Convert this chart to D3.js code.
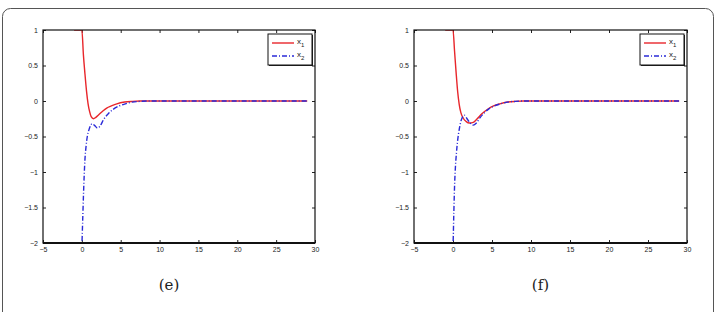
<!DOCTYPE html>
<html lang="en">
  <head>
    <meta charset="UTF-8" />
    <title>x1 / x2 responses</title>
    <script src="https://cdn.jsdelivr.net/npm/d3@7"></script>
    <style>
      body { margin: 0; background: #fff; }
      .tick text { font-family: "Liberation Sans", Arial, sans-serif; font-size: 7px; fill: #222; }
      .caption { font-family: "DejaVu Serif", "Liberation Serif", serif; font-size: 15px; fill: #222; }
      .leg { font-family: "Liberation Sans", Arial, sans-serif; font-size: 8px; fill: #222; }
    </style>
  </head>
  <body>
    <script>
      const xTicks = [-5, 0, 5, 10, 15, 20, 25, 30];
      const yTicks = [-2, -1.5, -1, -0.5, 0, 0.5, 1];

      // panel (e)
      const tE1 = [-1, 0, 0.2, 0.4, 0.6, 0.8, 1.0, 1.2, 1.5, 1.8, 2.2, 2.7, 3.2, 3.8, 4.5, 5.5, 6.5, 7.5, 29];
      const x1E = [1, 1, 0.65, 0.38, 0.14, -0.04, -0.15, -0.22, -0.25, -0.23, -0.19, -0.14, -0.1, -0.07, -0.04, -0.015, -0.005, 0, 0];
      const tE2 = [-1, 0, 0.1, 0.2, 0.3, 0.4, 0.55, 0.7, 0.9, 1.1, 1.3, 1.6, 2.0, 2.3, 2.8, 3.4, 4.0, 4.8, 5.6, 6.5, 7.5, 8.5, 29];
      const x2E = [-2, -2, -1.7, -1.35, -1.05, -0.82, -0.63, -0.5, -0.41, -0.35, -0.32, -0.34, -0.38, -0.36, -0.26, -0.18, -0.12, -0.07, -0.04, -0.015, -0.005, 0, 0];

      // panel (f)
      const tF1 = [-1, 0, 0.2, 0.4, 0.6, 0.8, 1.0, 1.3, 1.7, 2.1, 2.6, 3.1, 3.7, 4.4, 5.2, 6.0, 7.0, 8.0, 9, 29];
      const x1F = [1, 1, 0.7, 0.4, 0.13, -0.05, -0.16, -0.24, -0.29, -0.31, -0.3, -0.25, -0.18, -0.12, -0.07, -0.04, -0.015, -0.005, 0, 0];
      const tF2 = [-1, 0, 0.1, 0.2, 0.3, 0.45, 0.6, 0.8, 1.0, 1.2, 1.45, 1.8, 2.2, 2.6, 3.0, 3.5, 4.0, 4.6, 5.3, 6.1, 7.0, 8, 9, 29];
      const x2F = [-2, -2, -1.6, -1.2, -0.95, -0.72, -0.55, -0.4, -0.29, -0.23, -0.2, -0.25, -0.31, -0.34, -0.31, -0.23, -0.17, -0.11, -0.07, -0.04, -0.015, -0.005, 0, 0];

      const panels = [
        { left: 43, right: 315, caption: "(e)", s1: [tE1, x1E], s2: [tE2, x2E] },
        { left: 414, right: 687, caption: "(f)", s1: [tF1, x1F], s2: [tF2, x2F] },
      ];

      const svg = d3.select("body").append("svg").attr("width", 723).attr("height", 312);

      // outer frame
      svg.append("rect")
        .attr("x", 2.5).attr("y", 8.5).attr("width", 711).attr("height", 330)
        .attr("rx", 8).attr("fill", "none").attr("stroke", "#555").attr("stroke-width", 1);

      const plotTop = 30, plotBottom = 243;

      panels.forEach((p) => {
        const x = d3.scaleLinear().domain([-5, 30]).range([p.left, p.right]);
        const y = d3.scaleLinear().domain([-2, 1]).range([plotBottom, plotTop]);
        const g = svg.append("g");

        const fmt = (d) => String(d).replace("-", "\u2212");

        // axes, ticks inward
        g.append("g").attr("transform", `translate(0,${plotBottom})`)
          .call(d3.axisBottom(x).tickValues(xTicks).tickSize(-3).tickPadding(4).tickFormat(fmt))
          .call((a) => a.select(".domain").remove());
        g.append("g").attr("transform", `translate(${p.left},0)`)
          .call(d3.axisLeft(y).tickValues(yTicks).tickSize(-3).tickPadding(5).tickFormat(fmt))
          .call((a) => a.select(".domain").remove());
        g.append("g").attr("transform", `translate(0,${plotTop})`)
          .call(d3.axisTop(x).tickValues(xTicks).tickSize(-3).tickFormat(""))
          .call((a) => a.select(".domain").remove());
        g.append("g").attr("transform", `translate(${p.right},0)`)
          .call(d3.axisRight(y).tickValues(yTicks).tickSize(-3).tickFormat(""))
          .call((a) => a.select(".domain").remove());
        g.selectAll(".tick line").attr("stroke", "#222");

        const clipId = "clip" + p.caption.replace(/\W/g, "");
        svg.append("clipPath").attr("id", clipId).append("rect")
          .attr("x", p.left).attr("y", plotTop).attr("width", p.right - p.left).attr("height", plotBottom - plotTop);

        const line = d3.line().x((d) => x(d[0])).y((d) => y(d[1])).curve(d3.curveMonotoneX);

        const pts1 = p.s1[0].map((t, i) => [t, p.s1[1][i]]);
        const pts2 = p.s2[0].map((t, i) => [t, p.s2[1][i]]);

        g.append("path").datum(pts1).attr("clip-path", `url(#${clipId})`)
          .attr("d", line).attr("fill", "none").attr("stroke", "#e8262b").attr("stroke-width", 1.4);
        g.append("path").datum(pts2).attr("clip-path", `url(#${clipId})`)
          .attr("d", line).attr("fill", "none").attr("stroke", "#2a2ad8").attr("stroke-width", 1.4)
          .attr("stroke-dasharray", "5,2,1,2");

        // axis box
        g.append("rect").attr("x", p.left).attr("y", plotTop)
          .attr("width", p.right - p.left).attr("height", plotBottom - plotTop)
          .attr("fill", "none").attr("stroke", "#111").attr("stroke-width", 1.2);
        g.append("line").attr("x1", p.left).attr("x2", p.right).attr("y1", plotBottom).attr("y2", plotBottom)
          .attr("stroke", "#111").attr("stroke-width", 2);

        // legend
        const lx = p.right - 47, ly = 34;
        g.append("rect").attr("x", lx + 1).attr("y", ly + 1).attr("width", 44).attr("height", 31).attr("fill", "#222");
        g.append("rect").attr("x", lx).attr("y", ly).attr("width", 44).attr("height", 31)
          .attr("fill", "#fff").attr("stroke", "#111").attr("stroke-width", 1);
        const items = [
          { sub: "1", color: "#e8262b", dash: null, yy: ly + 9 },
          { sub: "2", color: "#2a2ad8", dash: "5,2,1,2", yy: ly + 22 },
        ];
        items.forEach((it) => {
          g.append("line").attr("x1", lx + 4).attr("x2", lx + 26).attr("y1", it.yy).attr("y2", it.yy)
            .attr("stroke", it.color).attr("stroke-width", 1.4).attr("stroke-dasharray", it.dash);
          const t = g.append("text").attr("class", "leg").attr("x", lx + 29).attr("y", it.yy + 1);
          t.append("tspan").text("x");
          t.append("tspan").attr("dy", 3).attr("font-size", "6px").text(it.sub);
        });

        svg.append("text").attr("class", "caption")
          .attr("x", (p.left + p.right) / 2 - 10).attr("y", 290)
          .attr("text-anchor", "middle").text(p.caption);
      });
    </script>
  </body>
</html>
